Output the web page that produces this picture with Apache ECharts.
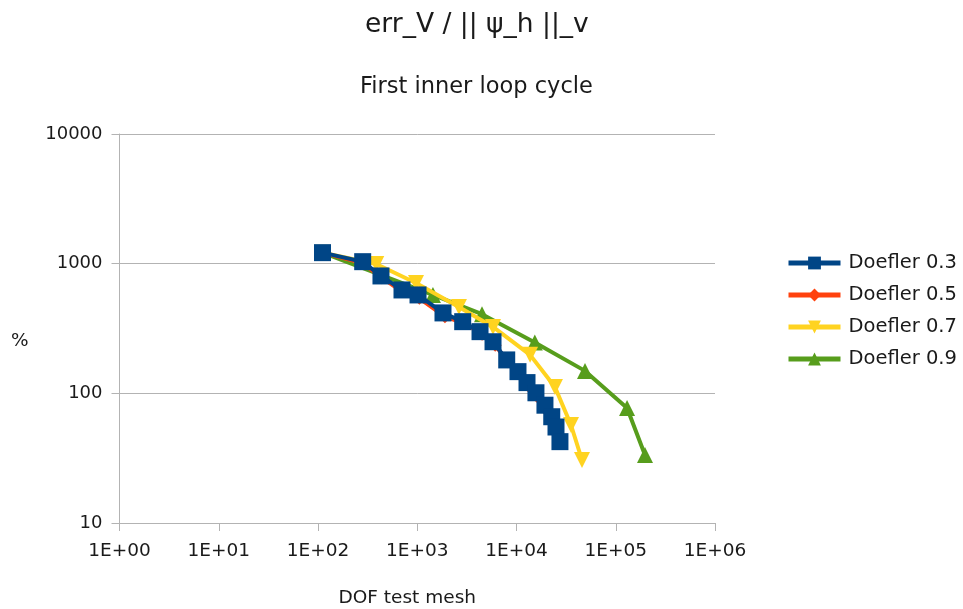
<!DOCTYPE html>
<html>
<head>
<meta charset="utf-8">
<script src="https://cdn.jsdelivr.net/npm/echarts@6/dist/echarts.min.js"></script>
<style>
  html, body { margin: 0; padding: 0; background: #fff; }
  #chart { width: 963px; height: 609px; }
</style>
</head>
<body>
<div id="chart"></div>
<script>
// Error estimator relative to the discrete norm, per Doefler marking parameter
const xTickLabels = ['1E+00', '1E+01', '1E+02', '1E+03', '1E+04', '1E+05', '1E+06'];
const yTickLabels = ['10', '100', '1000', '10000'];

const seriesNames = ['Doefler 0.3', 'Doefler 0.5', 'Doefler 0.7', 'Doefler 0.9'];

const dof03 = [111, 282, 431, 702, 1018, 1817, 2870, 4290, 5800, 7970, 10350, 12760, 15700, 19350, 22650, 25000, 27400];
const err03 = [1216, 1036, 804, 627, 574, 417, 357, 299, 250, 181, 147, 121, 101, 81, 66, 55, 42.4];

const dof05 = [111, 280, 440, 700, 1050, 1900, 3000, 4500, 6100, 8200, 10800, 13000, 16000, 19000, 22500, 25500, 28000];
const err05 = [1216, 1010, 780, 610, 540, 390, 345, 285, 235, 175, 140, 115, 95, 77, 63, 52, 44];

const dof07 = [111, 386, 971, 2630, 5800, 13700, 24400, 35400, 45700];
const err07 = [1216, 995, 710, 463, 325, 198, 112, 57, 30.6];

const dof09 = [111, 1440, 4490, 15300, 49000, 130000, 197000];
const err09 = [1216, 574, 408, 247, 149, 77, 33.5];

const colors = ['#004586', '#ff420e', '#ffd320', '#579d1c'];

const pairs = (xs, ys) => xs.map((x, i) => [x, ys[i]]);

const chart = echarts.init(document.getElementById('chart'), null, { renderer: 'canvas' });

const textColor = '#1a1a1a';
const font = 'DejaVu Sans, Liberation Sans, sans-serif';

chart.setOption({
  animation: false,
  backgroundColor: '#ffffff',
  title: [
    {
      text: 'err_V / || ψ_h ||_v',
      left: 365, top: 12,
      padding: 0,
      textStyle: { fontFamily: font, fontSize: 26.5, fontWeight: 'normal', color: textColor }
    },
    {
      text: 'First inner loop cycle',
      left: 360, top: 76,
      padding: 0,
      textStyle: { fontFamily: font, fontSize: 22.5, fontWeight: 'normal', color: textColor }
    }
  ],
  legend: {
    orient: 'vertical',
    left: 786, top: 253,
    padding: 0,
    itemWidth: 52, itemHeight: 16, itemGap: 12,
    data: seriesNames,
    lineStyle: { width: 5 },
    textStyle: { fontFamily: font, fontSize: 19.5, lineHeight: 20, color: textColor, padding: [0, 0, 0, 3] }
  },
  grid: { left: 119.5, top: 134, width: 595.5, height: 389, containLabel: false, outerBoundsMode: 'none' },
  xAxis: {
    type: 'log', logBase: 10, min: 1, max: 1e6,
    name: 'DOF test mesh', nameLocation: 'middle', nameGap: 66,
    nameTextStyle: { fontFamily: font, fontSize: 18.5, color: textColor, padding: [0, 20, 0, 0] },
    axisLine: { show: true, lineStyle: { color: '#b3b3b3', width: 1 } },
    axisTick: { show: true, length: 8, lineStyle: { color: '#b3b3b3' } },
    axisLabel: {
      fontFamily: font, fontSize: 18.5, color: textColor, margin: 19,
      formatter: v => xTickLabels[Math.round(Math.log10(v))]
    },
    splitLine: { show: false }
  },
  yAxis: {
    type: 'log', logBase: 10, min: 10, max: 10000,
    axisLine: { show: true, lineStyle: { color: '#b3b3b3', width: 1 } },
    axisTick: { show: true, length: 8, lineStyle: { color: '#b3b3b3' } },
    axisLabel: {
      fontFamily: font, fontSize: 18, color: textColor, margin: 17,
      formatter: v => yTickLabels[Math.round(Math.log10(v)) - 1]
    },
    splitLine: { show: true, lineStyle: { color: '#b3b3b3', width: 1 } }
  },
  graphic: [
    {
      // y-axis unit label
      type: 'text', left: 11, top: 332,
      style: { text: '%', fontFamily: font, fontSize: 18.5, fill: textColor }
    }
  ],
  series: [
    {
      name: seriesNames[0], type: 'line', z: 5,
      data: pairs(dof03, err03),
      symbol: 'rect', symbolSize: 17,
      lineStyle: { color: colors[0], width: 4 },
      itemStyle: { color: colors[0] }
    },
    {
      name: seriesNames[1], type: 'line', z: 4,
      data: pairs(dof05, err05),
      symbol: 'diamond', symbolSize: 13,
      lineStyle: { color: colors[1], width: 4 },
      itemStyle: { color: colors[1] }
    },
    {
      name: seriesNames[2], type: 'line', z: 3,
      data: pairs(dof07, err07),
      symbol: 'triangle', symbolRotate: 180, symbolSize: 16,
      lineStyle: { color: colors[2], width: 4 },
      itemStyle: { color: colors[2] }
    },
    {
      name: seriesNames[3], type: 'line', z: 2,
      data: pairs(dof09, err09),
      symbol: 'triangle', symbolSize: 16,
      lineStyle: { color: colors[3], width: 4 },
      itemStyle: { color: colors[3] }
    }
  ]
});
</script>
</body>
</html>
